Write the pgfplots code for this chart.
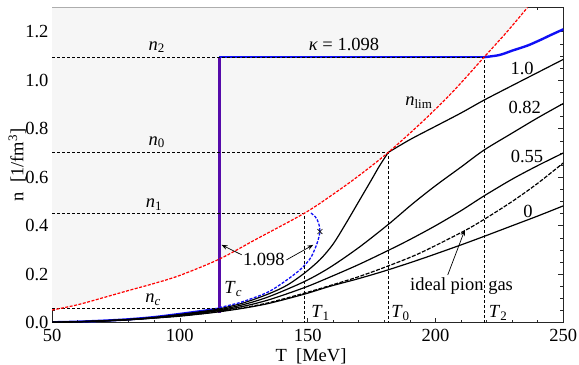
\documentclass[border=0pt]{standalone}
\usepackage{fontspec}
\setmainfont{Liberation Serif}
\usepackage{pgfplots}
\pgfplotsset{compat=1.18}
\usetikzlibrary{arrows.meta}
\definecolor{fillgray}{RGB}{246,246,246}
\definecolor{kblue}{RGB}{15,15,245}
\definecolor{kpurple}{RGB}{85,10,170}
\newcommand{\sub}[2]{\textit{#1}\textsubscript{#2}}
\begin{document}
\begin{tikzpicture}[font=\fontsize{18.5bp}{22bp}\selectfont]
\useasboundingbox (-52bp,-42.3bp) rectangle (527bp,322.7bp);
\begin{axis}[
  at={(0,0)}, anchor=south west, scale only axis,
  width=511.3bp, height=315.2bp,
  xmin=50, xmax=250, ymin=0, ymax=1.3,
  xtick={50,100,150,200,250},
  ytick={0,0.2,0.4,0.6,0.8,1.0,1.2},
  minor x tick num=4, minor y tick num=3,
  tick align=inside, major tick length=5bp, minor tick length=3bp,
  /pgf/number format/assume math mode=true,
  yticklabel style={/pgf/number format/.cd, fixed, fixed zerofill, precision=1},
  xticklabel style={/pgf/number format/.cd, fixed, precision=0, /tikz/yshift=-2.5bp},
  axis line style={line width=0.8bp, black!85},
  every tick/.style={black!85, line width=0.6bp},
  xlabel={T\ \ [MeV]},
  ylabel={n\ \ [1/fm\textsuperscript{3}]},
  xlabel style={at={(axis description cs:0.5066,-0.124)}, anchor=base},
  ylabel style={at={(axis description cs:-0.068,0.5)}, anchor=center},
  clip=true,
  helper/.style={black, line width=0.7bp, dash pattern=on 3bp off 2bp},
  curve/.style={black, line width=1.2bp, smooth},
]
% shaded region above the limiting density
\addplot[draw=none, fill=fillgray] coordinates {(50,1.3) (50,0.052) (60,0.074) (70,0.103) (80,0.133) (90,0.162) (100,0.195) (115.4,0.262) (130,0.345) (148.8,0.452) (160,0.53) (170,0.606) (181.5,0.702) (195,0.83) (207,0.955) (219,1.095) (228,1.20) (236,1.30)} -- cycle;

% kappa = 1.098 (thick)
\addplot[kblue, line width=2.4bp, smooth] coordinates {(50,0.0016) (60,0.004) (70,0.0082) (80,0.014) (90,0.023) (100,0.036) (110,0.05) (115.4,0.058)};
\addplot[kpurple, line width=2.8bp] coordinates {(115.4,0.04) (115.4,1.095)};
\addplot[kblue, line width=2.4bp] coordinates {(115.4,1.095) (219,1.095)};
\addplot[kblue, line width=2.4bp, smooth] coordinates {(219,1.095) (225,1.104) (230,1.122) (236,1.143) (241,1.166) (245,1.186) (250,1.21)};

% kappa = 1.0
\addplot[curve] coordinates {(50,0.0016) (60,0.004) (70,0.008) (80,0.0135) (90,0.022) (100,0.034) (110,0.048) (115.4,0.057) (125,0.082) (135,0.12) (142,0.155) (148.8,0.205) (155,0.262) (160,0.325) (165,0.41) (170,0.50) (175,0.59) (178,0.645) (181.5,0.702)};
\addplot[black, line width=1.2bp, smooth] coordinates {(181.5,0.702) (190,0.755) (200,0.81) (210,0.865) (219,0.918) (230,0.978) (240,1.032) (250,1.086)};
% kappa = 0.82
\addplot[curve] coordinates {(50,0.0016) (60,0.0039) (70,0.0077) (80,0.013) (90,0.021) (100,0.032) (110,0.045) (115.4,0.053) (125,0.075) (135,0.108) (148.8,0.17) (158.7,0.228) (170,0.31) (181.5,0.405) (191,0.49) (200,0.565) (210,0.642) (219,0.712) (230,0.782) (240,0.845) (250,0.904)};
% kappa = 0.55
\addplot[curve] coordinates {(50,0.0016) (60,0.0038) (70,0.0075) (80,0.0126) (90,0.020) (100,0.030) (110,0.042) (115.4,0.05) (125,0.068) (135,0.095) (148.8,0.145) (158.7,0.188) (170,0.24) (181.5,0.298) (190,0.343) (200,0.40) (210,0.462) (219,0.523) (230,0.592) (240,0.648) (250,0.70)};
% ideal pion gas
\addplot[black, line width=1.2bp, smooth, dash pattern=on 4bp off 1.5bp] coordinates {(50,0.0016) (60,0.0037) (70,0.0073) (80,0.0122) (90,0.0193) (100,0.028) (110,0.039) (115.4,0.047) (125,0.062) (135,0.083) (148.8,0.122) (158.7,0.153) (170,0.19) (181.5,0.234) (193.9,0.287) (210.8,0.376) (219,0.426) (230,0.50) (240,0.575) (250,0.659)};
% kappa = 0
\addplot[curve] coordinates {(50,0.0016) (60,0.0037) (70,0.0072) (80,0.012) (90,0.019) (100,0.027) (110,0.038) (115.4,0.045) (125,0.06) (135,0.08) (148.8,0.118) (158.7,0.15) (170,0.182) (181.5,0.218) (195,0.265) (209.5,0.319) (219,0.356) (230,0.40) (240,0.44) (250,0.482)};

% unstable branch (blue dashed)
\addplot[kblue, line width=1.3bp, smooth, dash pattern=on 3bp off 1.5bp] coordinates {(115.4,0.062) (123.5,0.083) (131.3,0.112) (135.2,0.13) (139.1,0.156) (143,0.185) (147,0.218) (149.5,0.245) (151.5,0.273) (153.7,0.328) (154.8,0.376) (154.3,0.41) (153,0.437) (150.9,0.455)};
\addplot[only marks, mark=x, mark size=3.5bp, black, line width=0.6bp] coordinates {(154.8,0.376)};

% helper dashed lines
\addplot[helper] coordinates {(50,0.0595) (115.4,0.0595)};
\addplot[helper] coordinates {(50,0.452) (148.8,0.452) (148.8,0)};
\addplot[helper] coordinates {(50,0.702) (181.5,0.702) (181.5,0)};
\addplot[helper] coordinates {(50,1.095) (219,1.095) (219,0)};

% limiting density (red dashed)
\addplot[red, line width=1.2bp, smooth, dash pattern=on 3bp off 1.5bp] coordinates {(50,0.052) (60,0.074) (70,0.103) (80,0.133) (90,0.162) (100,0.195) (115.4,0.262) (130,0.345) (148.8,0.452) (160,0.53) (170,0.606) (181.5,0.702) (195,0.83) (207,0.955) (219,1.095) (228,1.20) (236,1.30)};

% labels
\node at (axis cs:91,1.137) {\sub{n}{2}};
\node at (axis cs:91,0.745) {\sub{n}{0}};
\node at (axis cs:89.9,0.486) {\sub{n}{1}};
\node at (axis cs:89.6,0.094) {\sub{n}{\textit{c}}};
\node at (axis cs:120.9,0.139) {\sub{T}{\textit{c}}};
\node at (axis cs:155,0.039) {\sub{T}{1}};
\node at (axis cs:186.3,0.039) {\sub{T}{0}};
\node at (axis cs:224.5,0.039) {\sub{T}{2}};
\node at (axis cs:164.2,1.147) {\textit{κ} = 1.098};
\node at (axis cs:193.5,0.907) {\sub{n}{lim}};
\node at (axis cs:233.9,1.048) {1.0};
\node at (axis cs:234.9,0.886) {0.82};
\node at (axis cs:235.8,0.686) {0.55};
\node at (axis cs:236.2,0.459) {0};
\node at (axis cs:210.2,0.153) {ideal pion gas};
\node at (axis cs:132.9,0.259) {1.098};
\draw[-{Stealth[length=6bp,width=4.5bp]}, line width=0.7bp] (axis cs:124.2,0.28) -- (axis cs:116.3,0.321);
\draw[-{Stealth[length=6bp,width=4.5bp]}, line width=0.7bp] (axis cs:141.7,0.259) -- (axis cs:152.2,0.321);
\draw[-{Stealth[length=6bp,width=4.5bp]}, line width=0.7bp] (axis cs:204.8,0.197) -- (axis cs:211.5,0.383);
\end{axis}
\end{tikzpicture}
\end{document}
